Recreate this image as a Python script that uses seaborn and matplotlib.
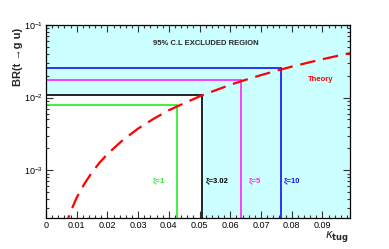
import numpy as np
import pandas as pd
import matplotlib
matplotlib.use("Agg")
import matplotlib.pyplot as plt
import matplotlib.ticker as mticker
import seaborn as sns

# Theory curve
kappa = [0.006, 0.007, 0.008, 0.01, 0.0125, 0.015, 0.0175, 0.02, 0.025, 0.03, 0.035, 0.04,
         0.0428, 0.05, 0.0509, 0.06, 0.0635, 0.07, 0.0764, 0.08, 0.09, 0.099]
br_theory = [1.5e-4, 2.05e-4, 2.67e-4, 4.2e-4, 6.5e-4, 9.4e-4, 1.28e-3, 1.67e-3, 2.6e-3,
             3.75e-3, 5.1e-3, 6.7e-3, 7.6e-3, 1.04e-2, 1.08e-2, 1.5e-2, 1.68e-2, 2.04e-2,
             2.43e-2, 2.67e-2, 3.38e-2, 4.1e-2]

# Limits for the different xi values
xi_labels = ["\u03be=1", "\u03be=3.02", "\u03be=5", "\u03be=10"]
xi_kappa = [0.0428, 0.0509, 0.0635, 0.0764]
xi_br = [0.00787, 0.0108, 0.0174, 0.0254]
xi_colors = ["#22ee22", "black", "#ff22ff", "#1111ee"]

# Excluded region (from xi=3.02 limit)
excl_kappa = 0.0509
excl_br = 0.0108

x_min, x_max = 0.0, 0.099
y_min, y_max = 2.2e-4, 0.1

sns.set_theme(style="ticks")
plt.rcParams['font.family'] = ['Liberation Sans', 'DejaVu Sans']
plt.rcParams['mathtext.fontset'] = 'custom'
plt.rcParams['mathtext.rm'] = 'Liberation Sans'

fig = plt.figure(figsize=(3.89, 2.49), dpi=100)
ax = fig.add_axes([46 / 389, 1 - 218 / 249, (350 - 46) / 389, (218 - 25) / 249])

cyan = "#ccffff"
ax.fill_between([excl_kappa, x_max], y_min, y_max, color=cyan, lw=0, zorder=0)
ax.fill_between([x_min, excl_kappa], excl_br, y_max, color=cyan, lw=0, zorder=0)

df = pd.DataFrame({"kappa": kappa, "br": br_theory})
sns.lineplot(data=df, x="kappa", y="br", ax=ax, color="red", lw=1.6,
             dashes=False, zorder=3).lines[-1].set_dashes([7, 3.5])

for k, b, c in zip(xi_kappa, xi_br, xi_colors):
    ax.plot([x_min, k], [b, b], color=c, lw=1.2, zorder=2)
    ax.plot([k, k], [y_min, b], color=c, lw=1.2, zorder=2)

label_x = [0.0368, 0.0558, 0.0680, 0.0800]
for lx, t, c in zip(label_x, xi_labels, xi_colors):
    ax.text(lx, 7.2e-4, t, color=c, fontsize=5.5, fontweight="bold",
            ha="center", va="center")

ax.text(0.052, 0.055, "95% C.L EXCLUDED REGION", fontsize=5.5, fontweight="bold",
        ha="center", va="center")
ax.text(0.0895, 0.0175, "Theory", color="red", fontsize=5.5, fontweight="bold",
        ha="center", va="center")

ax.set_yscale("log")
ax.set_xlim(x_min, x_max)
ax.set_ylim(y_min, y_max)
ax.set_xlabel("")
ax.set_ylabel("")
ax.xaxis.set_major_locator(mticker.MultipleLocator(0.01))
ax.xaxis.set_minor_locator(mticker.MultipleLocator(0.002))
ax.xaxis.set_major_formatter(mticker.FuncFormatter(lambda v, p: "0" if abs(v) < 1e-9 else f"{v:.2f}"))
ax.yaxis.set_major_locator(mticker.LogLocator(base=10))
ax.yaxis.set_minor_locator(mticker.LogLocator(base=10, subs=np.arange(2, 10)))
ax.yaxis.set_minor_formatter(mticker.NullFormatter())

ax.tick_params(which="both", direction="in", top=True, right=True, colors="#333333",
               labelcolor="black", labelsize=6.5, width=0.8)
ax.tick_params(which="major", length=5, pad=2)
ax.tick_params(which="minor", length=2.5)
for s in ax.spines.values():
    s.set_linewidth(0.9)
    s.set_color("black")

fig.text(18 / 389, 1 - 57 / 249, "BR(t \u2192g u)", rotation=90, fontsize=8,
         fontweight="bold", ha="center", va="center")
fig.text(337 / 389, 1 - 236 / 249, r"$\kappa_{\mathbf{tug}}$", fontsize=8.5,
         ha="center", va="center")

fig.savefig("out.png", dpi=100)
